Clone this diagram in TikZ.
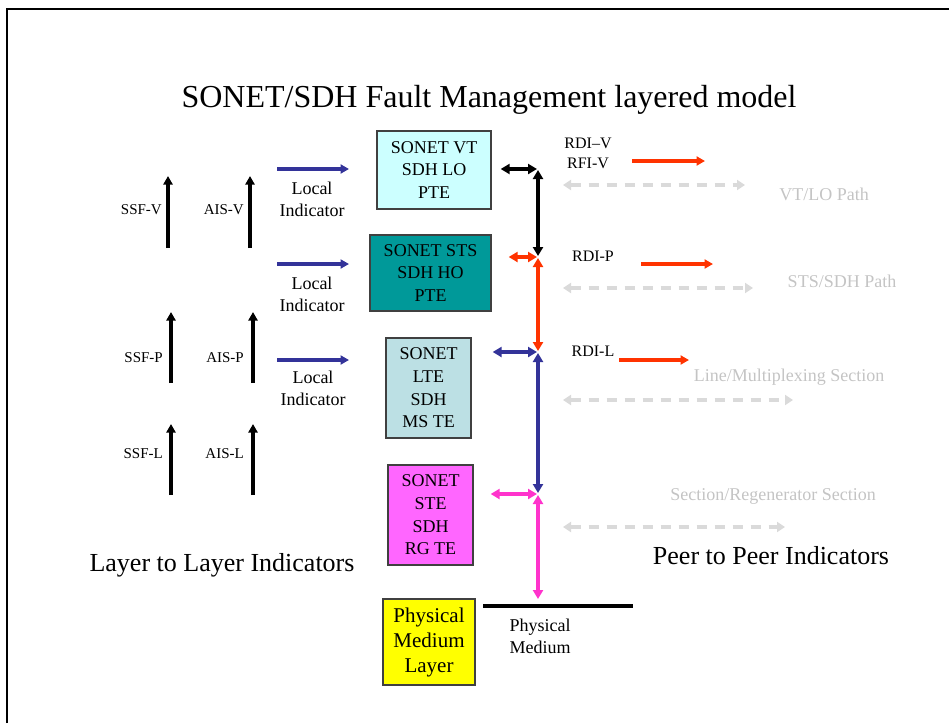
\documentclass[tikz,border=0pt]{standalone}
\usepackage{fontspec}
\setmainfont{Liberation Serif}
\usetikzlibrary{arrows.meta}
\definecolor{cyanbox}{HTML}{CCFFFF}
\definecolor{tealbox}{HTML}{009999}
\definecolor{ltebox}{HTML}{BCE0E4}
\definecolor{magbox}{HTML}{FF66FF}
\definecolor{yelbox}{HTML}{FFFF00}
\definecolor{redarr}{HTML}{FF3300}
\definecolor{bluearr}{HTML}{333399}
\definecolor{pinkarr}{HTML}{FF33CC}
\definecolor{grayline}{HTML}{DADADA}
\definecolor{graytext}{HTML}{C4C4C4}
\definecolor{boxline}{HTML}{404040}
\begin{document}
\begin{tikzpicture}[x=1pt,y=-1pt,
  layerbox/.style={draw=boxline, line width=1.3pt, align=center, inner sep=0pt,
    font=\fontsize{18}{22.7}\selectfont},
  tipA/.tip={Triangle[length=9pt,width=10pt]},
  dblarrow/.style={line width=3.4pt, tipA-tipA},
  sglarrow/.style={line width=3.2pt, -{Triangle[length=8.5pt,width=9pt]}},
  peerarrow/.style={grayline, line width=3.2pt, dash pattern=on 10pt off 8pt,
    {Triangle[length=8pt,width=10pt]}-{Triangle[length=8pt,width=10pt]}},
  smalllabel/.style={font=\fontsize{15}{18}\selectfont, inner sep=0pt},
  rdilabel/.style={font=\fontsize{16}{20}\selectfont, inner sep=0pt, align=center},
  locallabel/.style={font=\fontsize{18}{21.5}\selectfont, inner sep=0pt, align=center},
  graylabel/.style={graytext, font=\fontsize{18}{22}\selectfont, inner sep=0pt},
  biglabel/.style={font=\fontsize{26}{30}\selectfont, inner sep=0pt}
]
\useasboundingbox (0,0) rectangle (949,723);
% frame
\draw[line width=2.5pt] (7,723) -- (7,9) -- (949,9);

% title
\node[font=\fontsize{32}{36}\selectfont, inner sep=0pt] (title) at (489,100) {SONET/SDH Fault Management layered model};

% layer boxes
\node[layerbox, fill=cyanbox, minimum width=114pt, minimum height=78pt] (vt) at (434,170) {SONET VT\\SDH LO\\PTE};
\node[layerbox, fill=tealbox, minimum width=121pt, minimum height=76pt] (sts) at (430.5,273) {SONET STS\\SDH HO\\PTE};
\node[layerbox, fill=ltebox, minimum width=85pt, minimum height=100pt] (lte) at (428.5,388) {SONET\\LTE\\SDH\\MS TE};
\node[layerbox, fill=magbox, minimum width=85pt, minimum height=100pt] (ste) at (430.5,515) {SONET\\STE\\SDH\\RG TE};
\node[layerbox, fill=yelbox, minimum width=92pt, minimum height=86pt, font=\fontsize{21}{25}\selectfont] (phy) at (429,642) {Physical\\Medium\\Layer};

% junctions on the spine
\coordinate (J1) at (538,169);
\coordinate (J2) at (538,257);
\coordinate (J3) at (538,352);
\coordinate (J4) at (538,494);
\coordinate (PM) at (538,599);

% physical medium line
\coordinate (pmA) at (483,606);
\coordinate (pmB) at (633,606);
\draw[line width=4pt] (pmA) -- (pmB);
\node[font=\fontsize{18}{22}\selectfont, align=center, inner sep=0pt] (pmlabel) at (540,636) {Physical\\Medium};

% spine connectors
\draw[dblarrow, black, shorten <=1pt, shorten >=1pt] (J1) -- (J2);
\draw[dblarrow, redarr, shorten <=1pt, shorten >=1pt] (J2) -- (J3);
\draw[dblarrow, bluearr, shorten <=1pt, shorten >=1pt] (J3) -- (J4);
\draw[dblarrow, pinkarr, shorten <=1pt] (J4) -- (PM);

% horizontal connectors box -> spine
\draw[dblarrow, black, shorten >=1pt] ([xshift=9pt]vt.east |- J1) -- (J1);
\draw[dblarrow, redarr, shorten >=1pt] ([xshift=17pt]sts.east |- J2) -- (J2);
\draw[dblarrow, bluearr, shorten >=1pt] ([xshift=21pt]lte.east |- J3) -- (J3);
\draw[dblarrow, pinkarr, shorten >=1pt] ([xshift=17pt]ste.east |- J4) -- (J4);

% peer indicators (red)
\node[rdilabel] (rdiv) at (588,153) {RDI--V\\RFI-V};
\node[rdilabel] (rdip) at (593,256) {RDI-P};
\node[rdilabel] (rdil) at (593,351) {RDI-L};
\coordinate (r1a) at (632,161); \coordinate (r1b) at (705,161);
\coordinate (r2a) at (641,264); \coordinate (r2b) at (713,264);
\coordinate (r3a) at (619,360); \coordinate (r3b) at (689,360);
\draw[sglarrow, redarr] (r1a) -- (r1b);
\draw[sglarrow, redarr] (r2a) -- (r2b);
\draw[sglarrow, redarr] (r3a) -- (r3b);

% peer paths (gray dashed)
\coordinate (g1a) at (563,185); \coordinate (g1b) at (745,185);
\coordinate (g2a) at (563,288); \coordinate (g2b) at (753,288);
\coordinate (g3a) at (563,400); \coordinate (g3b) at (793,400);
\coordinate (g4a) at (563,527); \coordinate (g4b) at (785,527);
\draw[peerarrow] (g1a) -- (g1b);
\draw[peerarrow] (g2a) -- (g2b);
\draw[peerarrow] (g3a) -- (g3b);
\draw[peerarrow] (g4a) -- (g4b);
\node[graylabel] (vtpath) at (824,194) {VT/LO Path};
\node[graylabel] (stspath) at (842,281) {STS/SDH Path};
\node[graylabel] (linesec) at (789,377) {Line/Multiplexing Section};
\node[graylabel] (regsec) at (773,496) {Section/Regenerator Section};

% big captions
\node[biglabel] (peercap) at (771,556) {Peer to Peer Indicators};
\node[biglabel] (layercap) at (222,565) {Layer to Layer Indicators};

% local indicators (blue)
\coordinate (b1a) at (277,169); \coordinate (b1b) at (349,169);
\coordinate (b2a) at (277,264); \coordinate (b2b) at (349,264);
\coordinate (b3a) at (277,360); \coordinate (b3b) at (349,360);
\draw[sglarrow, bluearr] (b1a) -- (b1b);
\draw[sglarrow, bluearr] (b2a) -- (b2b);
\draw[sglarrow, bluearr] (b3a) -- (b3b);
\node[locallabel] (loc1) at (312,199.5) {Local\\Indicator};
\node[locallabel] (loc2) at (312,294.5) {Local\\Indicator};
\node[locallabel] (loc3) at (313,388.5) {Local\\Indicator};

% layer-to-layer vertical arrows
\coordinate (ssfVa) at (168,248); \coordinate (ssfVb) at (168,176);
\coordinate (aisVa) at (250,248); \coordinate (aisVb) at (250,176);
\coordinate (ssfPa) at (171,383); \coordinate (ssfPb) at (171,312);
\coordinate (aisPa) at (253,383); \coordinate (aisPb) at (253,312);
\coordinate (ssfLa) at (171,495); \coordinate (ssfLb) at (171,424);
\coordinate (aisLa) at (253,495); \coordinate (aisLb) at (253,424);
\draw[sglarrow, black] (ssfVa) -- (ssfVb);
\draw[sglarrow, black] (aisVa) -- (aisVb);
\draw[sglarrow, black] (ssfPa) -- (ssfPb);
\draw[sglarrow, black] (aisPa) -- (aisPb);
\draw[sglarrow, black] (ssfLa) -- (ssfLb);
\draw[sglarrow, black] (aisLa) -- (aisLb);
\node[smalllabel, anchor=east] (ssfv) at (162,210) {SSF-V};
\node[smalllabel, anchor=east] (aisv) at (244,210) {AIS-V};
\node[smalllabel, anchor=east] (ssfp) at (163,358) {SSF-P};
\node[smalllabel, anchor=east] (aisp) at (244,358) {AIS-P};
\node[smalllabel, anchor=east] (ssfl) at (163,454) {SSF-L};
\node[smalllabel, anchor=east] (aisl) at (244,454) {AIS-L};
\end{tikzpicture}
\end{document}
